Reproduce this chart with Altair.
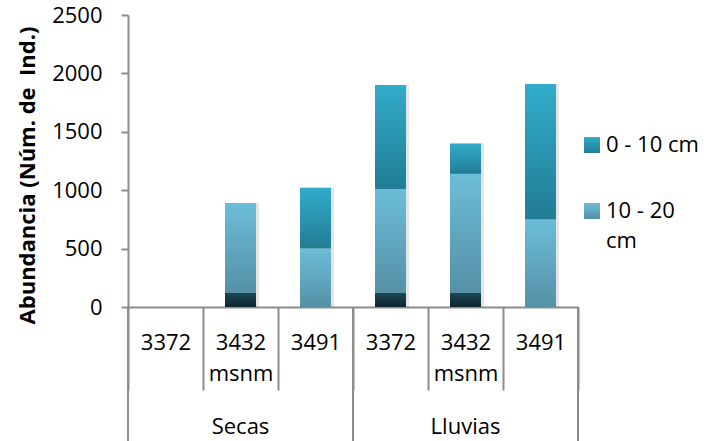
import altair as alt
import pandas as pd

# Seasons and altitudes (x categories)
seasons = ["Secas", "Lluvias"]
altitudes = ["3372", "3432 msnm", "3491"]

# Abundance per depth layer, in order Secas 3372..3491, Lluvias 3372..3491
base_layer = [0, 120, 0, 120, 120, 0]          # bottom dark segment
depth_10_20 = [0, 770, 500, 890, 1020, 750]    # 10 - 20 cm
depth_0_10 = [0, 0, 520, 890, 260, 1160]       # 0 - 10 cm

series_names = ["base", "10 - 20 cm", "0 - 10 cm"]
series_values = [base_layer, depth_10_20, depth_0_10]
legend_names = ["0 - 10 cm", "10 - 20 cm"]

keys = [f"{s}|{a}" for s in seasons for a in altitudes]

rows = []
for order, (name, vals) in enumerate(zip(series_names, series_values)):
    for k, v in zip(keys, vals):
        rows.append({"key": k, "serie": name, "orden": order, "valor": v})
df = pd.DataFrame(rows)

W, H = 450, 292
FONT = "Open Sans"
GRID = "#8c8c8c"


def grad(top, bottom):
    return alt.Gradient(
        gradient="linear",
        stops=[alt.GradientStop(color=top, offset=0),
               alt.GradientStop(color=bottom, offset=1)],
        x1=0, x2=0, y1=0, y2=1,
    )


fills = {
    "base": grad("#1d4653", "#0e2630"),
    "10 - 20 cm": grad("#6cbdd8", "#5590a6"),
    "0 - 10 cm": grad("#31acca", "#227c94"),
}

x_enc = alt.X(
    "key:N",
    sort=keys,
    scale=alt.Scale(domain=keys, paddingInner=0, paddingOuter=0),
    axis=alt.Axis(
        title=None,
        labelExpr="isValid(datum.value) && indexof(datum.value, '|') >= 0 ? "
                  "split(split(datum.value, '|')[1], ' ') : ''",
        labelFont=FONT, labelFontSize=22, labelColor="#000000",
        labelAngle=0, labelBaseline="middle", labelPadding=-48,
        labelLineHeight=31,
        tickBand="extent", tickSize=83, tickColor=GRID, tickWidth=2,
        domainColor=GRID, domainWidth=2,
    ),
)

y_enc = alt.Y(
    "y1:Q",
    scale=alt.Scale(domain=[0, 2500]),
    axis=alt.Axis(
        title="Abundancia (Núm. de\u00a0 Ind.)",
        titleFont=FONT, titleFontSize=22, titleFontWeight="bold",
        titleColor="#000000", titlePadding=12, titleY=160,
        values=[0, 500, 1000, 1500, 2000, 2500], format="d",
        labelFont=FONT, labelFontSize=22, labelColor="#000000",
        labelPadding=19, tickSize=7, tickColor=GRID, tickWidth=2,
        domainColor=GRID, domainWidth=2, grid=False,
    ),
)

stacked = alt.Chart(df).transform_stack(
    stack="valor", groupby=["key"], as_=["y1", "y2"],
    sort=[alt.SortField("orden", order="ascending")],
)

# soft shadow behind each bar
shadow = stacked.transform_filter("datum.valor > 0").mark_bar(
    size=33, color="#000000", opacity=0.10, xOffset=2
).encode(x=x_enc, y=y_enc, y2="y2:Q")

# gradient-filled stacked segments
grad_layers = [
    stacked.transform_filter(f"datum.serie == '{name}' && datum.valor > 0")
    .mark_bar(size=31, fill=fills[name])
    .encode(x=x_enc, y=y_enc, y2="y2:Q")
    for name in series_names
]

# long separators at season boundaries
bounds = pd.DataFrame({
    "key": [f"{s}|{altitudes[0]}" for s in seasons] + [f"{seasons[-1]}|{altitudes[-1]}"],
    "lado": [0, 0, 1],
})
sep_left = alt.Chart(bounds).transform_filter("datum.lado == 0").mark_rule(
    color=GRID, strokeWidth=2
).encode(x=alt.X("key:N", sort=keys, bandPosition=0), y=alt.value(H), y2=alt.value(H + 140))
sep_right = alt.Chart(bounds).transform_filter("datum.lado == 1").mark_rule(
    color=GRID, strokeWidth=2
).encode(x=alt.X("key:N", sort=keys, bandPosition=1), y=alt.value(H), y2=alt.value(H + 140))

# season labels centred under each group
groups = pd.DataFrame({
    "key": [f"{s}|{altitudes[1]}" for s in seasons],
    "season": seasons,
})
group_text = alt.Chart(groups).mark_text(
    font=FONT, fontSize=22, color="#000000", baseline="middle"
).encode(x=alt.X("key:N", sort=keys), y=alt.value(H + 120), text="season:N")

# legend: gradient swatch plus (wrapped) label for each depth
legend_df = pd.DataFrame({"serie": legend_names})
legend_layers = []
for i, (name, sw_top, txt_base) in enumerate(zip(legend_names, [122, 188], [137, 203])):
    one = alt.Chart(legend_df).transform_filter(f"datum.serie == '{name}'")
    legend_layers.append(
        one.mark_rect(fill=fills[name]).encode(
            x=alt.value(W + 6), x2=alt.value(W + 22),
            y=alt.value(sw_top), y2=alt.value(sw_top + 16),
        )
    )
    legend_layers.append(
        one.transform_calculate(
            lab="datum.serie == '10 - 20 cm' ? ['10 - 20', 'cm'] : datum.serie"
        ).mark_text(
            font=FONT, fontSize=22, color="#000000", align="left",
            baseline="alphabetic", lineHeight=30,
        ).encode(x=alt.value(W + 28), y=alt.value(txt_base), text="lab:N")
    )

chart = alt.layer(
    shadow, *grad_layers, sep_left, sep_right, group_text, *legend_layers
).properties(
    width=W, height=H,
    autosize=alt.AutoSizeParams(type="none"),
    padding={"left": 128, "top": 15, "right": 704 - 128 - W, "bottom": 441 - 15 - H},
).configure_view(stroke=None)

chart.save("out.html", embed_options={"renderer": "svg", "actions": False})
